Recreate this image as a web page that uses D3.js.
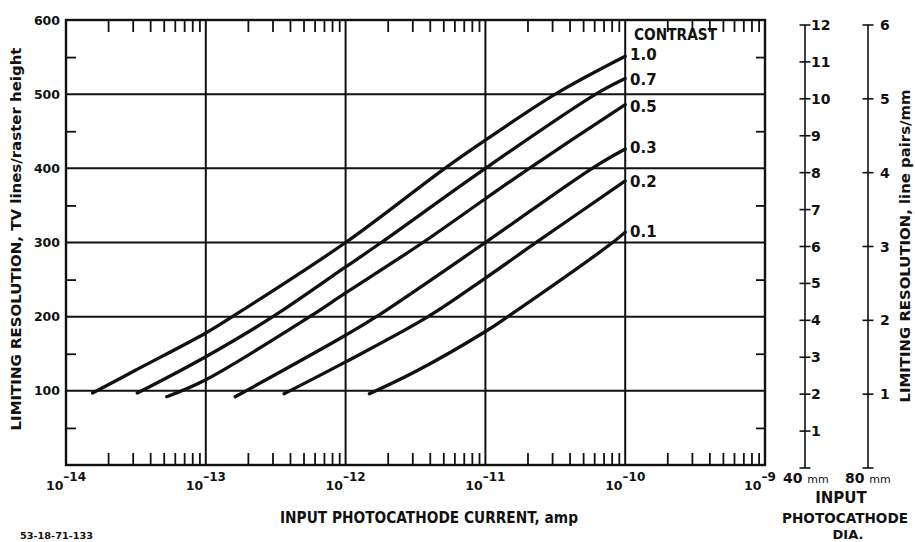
<!DOCTYPE html>
<html><head><meta charset="utf-8">
<script src="https://cdn.jsdelivr.net/npm/d3@7"></script>
<style>
body{margin:0;background:#fff;}
svg{display:block;font-family:"DejaVu Sans",sans-serif;font-weight:bold;}
text{fill:#111;}
</style></head>
<body><svg id="c" width="915" height="542"></svg>
<script>
// ---- data ----
const contrastLabels = ["1.0","0.7","0.5","0.3","0.2","0.1"];
// log10 of input photocathode current (amp) and limiting resolution (TV lines)
const c10_log = [-13.81,-13.5,-13.0,-12.81,-12.0,-11.29,-11.0,-10.5,-10.0];
const c10_res = [97,128,178,200,300,400,438,500,551];
const c07_log = [-13.49,-13.0,-12.52,-12.0,-11.745,-11.0,-10.21,-10.0];
const c07_res = [97,146,200,267,300,400,500,521];
const c05_log = [-13.28,-13.0,-12.257,-12.0,-11.447,-11.0,-10.686,-10.0];
const c05_res = [92,115,200,232,300,359,400,486];
const c03_log = [-12.79,-12.0,-11.78,-11.0,-10.236,-10.0];
const c03_res = [92,175,200,300,400,426];
const c02_log = [-12.44,-12.0,-11.41,-11.0,-10.66,-10.0];
const c02_res = [96,139,200,252,297,383];
const c01_log = [-11.83,-11.5,-11.0,-10.84,-10.09,-10.0];
const c01_res = [96,126,180,200,300,314];
const xMajorExp = [-14,-13,-12,-11,-10,-9];
const yMajorTicks = [100,200,300,400,500,600];
const yMinorTicks = [50,150,250,350,450,550];
const lpmm40Ticks = [0,1,2,3,4,5,6,7,8,9,10,11,12];
const lpmm80Ticks = [0,1,2,3,4,5,6];
const xTitle = "INPUT PHOTOCATHODE CURRENT, amp";
const yTitle = "LIMITING RESOLUTION, TV lines/raster height";
const y2Title = "LIMITING RESOLUTION, line pairs/mm";

const seriesLog = [c10_log,c07_log,c05_log,c03_log,c02_log,c01_log];
const seriesRes = [c10_res,c07_res,c05_res,c03_res,c02_res,c01_res];

// ---- layout ----
const svg = d3.select("#c");
const L=66,R=765,T=20,B=465;
const x = d3.scaleLog().domain([1e-14,1e-9]).range([L,R]);
const y = d3.scaleLinear().domain([0,600]).range([B,T]);
const y40 = d3.scaleLinear().domain([0,12]).range([468,25]);
const y80 = d3.scaleLinear().domain([0,6]).range([468,25]);

const ink="#111";
// grid
const g = svg.append("g");
g.selectAll(".hg").data(yMajorTicks.slice(0,5)).join("line")
  .attr("x1",L).attr("x2",R).attr("y1",d=>y(d)).attr("y2",d=>y(d))
  .attr("stroke",ink).attr("stroke-width",2);
g.selectAll(".vg").data(xMajorExp.slice(1,5)).join("line")
  .attr("x1",d=>x(10**d)).attr("x2",d=>x(10**d)).attr("y1",T).attr("y2",B)
  .attr("stroke",ink).attr("stroke-width",2);
g.append("rect").attr("x",L).attr("y",T).attr("width",R-L).attr("height",B-T)
  .attr("fill","none").attr("stroke",ink).attr("stroke-width",2.4);

// minor x ticks
const minorX=[];
for(let e=-14;e<-9;e++) for(let k=2;k<=9;k++) minorX.push(k*10**e);
const axB = svg.append("g").attr("transform",`translate(0,${B})`)
  .call(d3.axisBottom(x).tickValues(minorX).tickSize(-12).tickFormat(""));
const axT = svg.append("g").attr("transform",`translate(0,${T})`)
  .call(d3.axisTop(x).tickValues(minorX).tickSize(-12).tickFormat(""));
[axB,axT].forEach(a=>{a.select(".domain").remove();a.selectAll("line").attr("stroke",ink).attr("stroke-width",1.8);});

// minor y ticks
const axL = svg.append("g").attr("transform",`translate(${L},0)`)
  .call(d3.axisLeft(y).tickValues(yMinorTicks).tickSize(-10).tickFormat(""));
const axR = svg.append("g").attr("transform",`translate(${R},0)`)
  .call(d3.axisRight(y).tickValues(yMinorTicks).tickSize(-9).tickFormat(""));
[axL,axR].forEach(a=>{a.select(".domain").remove();a.selectAll("line").attr("stroke",ink).attr("stroke-width",1.8);});

// y labels
const axLab = svg.append("g").attr("transform",`translate(${L},0)`)
  .call(d3.axisLeft(y).tickValues(yMajorTicks).tickSize(0).tickPadding(6));
axLab.select(".domain").remove();
axLab.selectAll("text").attr("font-size",12.5).attr("font-family","DejaVu Sans").attr("font-weight","bold").attr("fill",ink);

// x labels with exponent
const xl = svg.append("g");
xMajorExp.forEach(e=>{
  const t = xl.append("text").attr("x",x(10**e)-(e===-9?5:0)).attr("y",490).attr("text-anchor","middle").attr("font-size",12.5);
  t.append("tspan").text("10");
  t.append("tspan").attr("dy",-9).attr("font-size",12).text("\u2013"+Math.abs(e));
});

// curves
const line = d3.line().x(d=>x(10**d[0])).y(d=>y(d[1])).curve(d3.curveCatmullRom.alpha(0.5));
seriesLog.forEach((lg,i)=>{
  const pts = lg.map((v,j)=>[v,seriesRes[i][j]]);
  svg.append("path").attr("d",line(pts)).attr("fill","none").attr("stroke",ink)
    .attr("stroke-width",3.3).attr("stroke-linecap","round");
});

// contrast labels
const labelBase=[60,85,112,153,187,237];
svg.append("text").attr("x",634).attr("y",40).attr("font-size",15)
  .attr("textLength",83).attr("lengthAdjust","spacingAndGlyphs").text("CONTRAST");
contrastLabels.forEach((c,i)=>{
  svg.append("text").attr("x",630).attr("y",labelBase[i]).attr("font-size",15).text(c);
});

// right-side scales
function sideAxis(sc,ticks,xp,lx){
  const a = svg.append("g");
  a.append("line").attr("x1",xp).attr("x2",xp).attr("y1",sc(0)).attr("y2",sc(ticks[ticks.length-1]))
    .attr("stroke",ink).attr("stroke-width",1.6);
  a.selectAll(".t").data(ticks).join("line")
    .attr("x1",xp-5.5).attr("x2",xp+5.5).attr("y1",d=>sc(d)).attr("y2",d=>sc(d))
    .attr("stroke",ink).attr("stroke-width",1.6);
  a.selectAll(".l").data(ticks.filter(d=>d>0)).join("text")
    .attr("x",lx).attr("y",d=>sc(d)).attr("dy","0.36em").attr("font-size",14).text(d=>d);
}
sideAxis(y40,lpmm40Ticks,805,811);
sideAxis(y80,lpmm80Ticks,868,880);

// bottom-right labels
const br = svg.append("g");
const t40 = br.append("text").attr("x",783).attr("y",483).attr("font-size",14);
t40.append("tspan").text("40 ");
t40.append("tspan").attr("font-size",11).attr("font-weight","normal").text("mm");
const t80 = br.append("text").attr("x",845).attr("y",483).attr("font-size",14);
t80.append("tspan").text("80 ");
t80.append("tspan").attr("font-size",11).attr("font-weight","normal").text("mm");
br.append("text").attr("x",841).attr("y",503).attr("text-anchor","middle").attr("font-size",15).text("INPUT");
br.append("text").attr("x",845).attr("y",523).attr("text-anchor","middle").attr("font-size",14.5)
  .attr("textLength",126).attr("lengthAdjust","spacingAndGlyphs").text("PHOTOCATHODE");
br.append("text").attr("x",848).attr("y",539).attr("text-anchor","middle").attr("font-size",13).text("DIA.");

// titles
svg.append("text").attr("x",429).attr("y",523).attr("text-anchor","middle").attr("font-size",15)
  .attr("textLength",298).attr("lengthAdjust","spacingAndGlyphs").text(xTitle);
svg.append("text").attr("transform","translate(21,239) rotate(-90)").attr("text-anchor","middle").attr("font-size",14)
  .attr("textLength",383).attr("lengthAdjust","spacingAndGlyphs").text(yTitle);
svg.append("text").attr("transform","translate(910,246) rotate(-90)").attr("text-anchor","middle").attr("font-size",14.5)
  .attr("textLength",313).attr("lengthAdjust","spacingAndGlyphs").text(y2Title);

// footnote
svg.append("text").attr("x",20).attr("y",539).attr("font-size",8.5)
  .attr("textLength",73).attr("lengthAdjust","spacingAndGlyphs").text("53-18-71-133");
</script></body></html>
